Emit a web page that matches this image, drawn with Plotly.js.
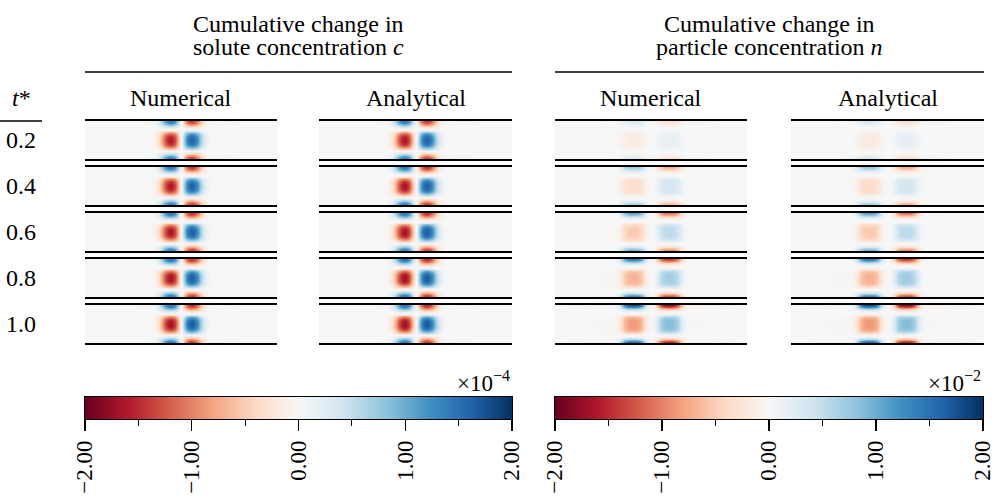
<!DOCTYPE html>
<html>
<head>
<meta charset="utf-8">
<script src="https://cdn.plot.ly/plotly-3.0.1.min.js"></script>
<style>html,body{margin:0;padding:0;background:#fff;}</style>
</head>
<body>
<div id="chart" style="width:993px;height:501px"></div>
<script>
// Non-dimensional times down the rows, methods across the columns
const times = ['0.2', '0.4', '0.6', '0.8', '1.0'];
const methods = ['Numerical', 'Analytical'];

// Streamwise sample positions (offset from channel centre) and wall-normal positions (0 = lower wall)
const xSolute = [-96, -30, -26, -22, -19, -16, -13, -11, -9, -6, -3, 0, 3, 6, 9, 11, 13, 16, 19, 22, 26, 30, 96];
const xParticle = [-96, -36, -32, -29, -26, -22, -18, -14, -10, -7, -4, 0, 4, 7, 10, 14, 18, 22, 26, 29, 32, 36, 96];
const yWall = [0, 0.05, 0.1, 0.15, 0.2, 0.25, 0.3, 0.35, 0.4, 0.45, 0.5, 0.55, 0.6, 0.65, 0.7, 0.75, 0.8, 0.85, 0.9, 0.95, 1];

// Shape of the solute change c
const soluteShapeX = [0, 0.01, 0.07, 0.25, 0.5, 0.78, 0.95, 1.0, 0.98, 0.82, 0.45, 0, -0.45, -0.82, -0.98, -1.0, -0.95, -0.78, -0.5, -0.25, -0.07, -0.01, 0];
const soluteShapeY = [0.9, 0.78, 0.5, 0.22, 0.02, -0.22, -0.5, -0.75, -0.92, -0.99, -1.0, -0.99, -0.92, -0.75, -0.5, -0.22, 0.02, 0.22, 0.5, 0.78, 0.9];

// Shape of the particle change n
const particleShapeX = [0, 0.04, 0.2, 0.5, 0.8, 0.97, 1.0, 0.97, 0.8, 0.45, 0.15, 0, -0.15, -0.45, -0.8, -0.97, -1.0, -0.97, -0.8, -0.5, -0.2, -0.04, 0];
const particleShapeY = [1.0, 0.72, 0.32, 0.08, -0.02, -0.12, -0.3, -0.42, -0.47, -0.48, -0.48, -0.48, -0.47, -0.42, -0.3, -0.12, -0.02, 0.08, 0.32, 0.72, 1.0];

// Peak amplitudes at each time (c in units of 1e-4, n in units of 1e-2)
const soluteNumerical = [1.60, 1.62, 1.64, 1.66, 1.68];
const soluteAnalytical = [1.62, 1.64, 1.66, 1.68, 1.70];
const particleNumerical = [0.35, 0.75, 1.10, 1.45, 1.80];
const particleAnalytical = [0.38, 0.78, 1.13, 1.48, 1.83];

// Colour bar scale
const barValues = [-2, 2];
const barTicks = [-2, -1, 0, 1, 2];
const barTickText = ['\u22122.00', '\u22121.00', '0.00', '1.00', '2.00'];
const barMinorTicks = [-1.5, -0.5, 0.5, 1.5];

const RdBu = [
  [0.0, '#67001f'], [0.1, '#b2182b'], [0.2, '#d6604d'], [0.3, '#f4a582'],
  [0.4, '#fddbc7'], [0.5, '#f7f7f7'], [0.6, '#d1e5f0'], [0.7, '#92c5de'],
  [0.8, '#4393c3'], [0.9, '#2166ac'], [1.0, '#053061']
];

const W = 993, H = 501;
const FONT = 'Liberation Serif, Times New Roman, serif';
const TEXT_SIZE = 24;
const colPx = [[85, 277], [319, 512], [555, 747], [791, 984]];
const rowPx = [[121, 159], [167, 205], [213, 251], [259, 297], [305, 343]];
const barRowPx = [397, 419];
const barColPx = [[85, 512], [555, 983]];

const px2x = p => p / W;
const px2y = p => 1 - p / H;

function field(amp, sx, sy) {
  return sy.map(vy => sx.map(vx => amp * vx * vy));
}

const data = [];
const layout = {
  width: W, height: H,
  margin: {l: 0, r: 0, t: 0, b: 0},
  paper_bgcolor: '#fff', plot_bgcolor: '#fff',
  showlegend: false,
  font: {family: FONT, size: TEXT_SIZE, color: '#000'},
  annotations: [], shapes: []
};

let k = 0;
const panels = [
  {x: xSolute, sx: soluteShapeX, sy: soluteShapeY, amps: soluteNumerical},
  {x: xSolute, sx: soluteShapeX, sy: soluteShapeY, amps: soluteAnalytical},
  {x: xParticle, sx: particleShapeX, sy: particleShapeY, amps: particleNumerical},
  {x: xParticle, sx: particleShapeX, sy: particleShapeY, amps: particleAnalytical}
];

panels.forEach((p, c) => {
  times.forEach((t, r) => {
    k += 1;
    const xa = k === 1 ? 'x' : 'x' + k;
    const ya = k === 1 ? 'y' : 'y' + k;
    data.push({
      type: 'heatmap', x: p.x, y: yWall, z: field(p.amps[r], p.sx, p.sy),
      zmin: -2, zmax: 2, colorscale: RdBu, zsmooth: 'best', showscale: false,
      hoverinfo: 'skip', xaxis: xa, yaxis: ya
    });
    layout['xaxis' + (k === 1 ? '' : k)] = {
      domain: [px2x(colPx[c][0]), px2x(colPx[c][1])], range: [-96, 96],
      showgrid: false, zeroline: false, showticklabels: false, ticks: '',
      showline: true, mirror: true, linecolor: '#000', linewidth: 1.6,
      anchor: ya, fixedrange: true
    };
    layout['yaxis' + (k === 1 ? '' : k)] = {
      domain: [px2y(rowPx[r][1]), px2y(rowPx[r][0])], range: [0, 1],
      showgrid: false, zeroline: false, showticklabels: false, ticks: '',
      showline: false, anchor: xa, fixedrange: true
    };
  });
});

// Horizontal colour bars drawn as thin heatmaps with their own axes
const exps = ['\u00d710<sup>\u22124</sup>', '\u00d710<sup>\u22122</sup>'];
barColPx.forEach((bc, i) => {
  k += 1;
  const xa = 'x' + k, ya = 'y' + k;
  data.push({
    type: 'heatmap', x: barValues, y: [0, 1], z: [barValues, barValues],
    zmin: -2, zmax: 2, colorscale: RdBu, zsmooth: 'best', showscale: false,
    hoverinfo: 'skip', xaxis: xa, yaxis: ya
  });
  layout['xaxis' + k] = {
    domain: [px2x(bc[0]), px2x(bc[1])], range: [-2, 2],
    showgrid: false, zeroline: false,
    tickvals: barTicks, ticktext: barTickText, tickangle: -90,
    ticks: 'outside', ticklen: 11, tickwidth: 1.4, tickcolor: '#000',
    minor: {tickvals: barMinorTicks, ticks: 'outside', ticklen: 6, tickwidth: 1.2, tickcolor: '#000'},
    tickfont: {family: FONT, size: 23, color: '#000'},
    ticklabeloverflow: 'allow',
    showline: true, mirror: true, linecolor: '#000', linewidth: 1.4,
    anchor: ya, fixedrange: true
  };
  layout['yaxis' + k] = {
    domain: [px2y(barRowPx[1]), px2y(barRowPx[0])], range: [0, 1],
    showgrid: false, zeroline: false, showticklabels: false, ticks: '',
    showline: true, mirror: true, linecolor: '#000', linewidth: 1.4,
    anchor: xa, fixedrange: true
  };
  layout.annotations.push({
    xref: 'paper', yref: 'paper', x: px2x(bc[1]), y: px2y(398),
    xanchor: 'right', yanchor: 'bottom', showarrow: false,
    text: exps[i], font: {family: FONT, size: 23}
  });
});

// Group headings with rules beneath
const headings = [
  ['Cumulative change in', 'solute concentration <i>c</i>'],
  ['Cumulative change in', 'particle concentration <i>n</i>']
];
headings.forEach((h, i) => {
  const left = colPx[2 * i][0], right = colPx[2 * i + 1][1];
  const mid = px2x((left + right) / 2);
  layout.annotations.push({xref: 'paper', yref: 'paper', x: mid, y: px2y(24), xanchor: 'center', yanchor: 'middle', showarrow: false, text: h[0]});
  layout.annotations.push({xref: 'paper', yref: 'paper', x: mid, y: px2y(47), xanchor: 'center', yanchor: 'middle', showarrow: false, text: h[1]});
  layout.shapes.push({type: 'line', xref: 'paper', yref: 'paper', x0: px2x(left), x1: px2x(right), y0: px2y(72), y1: px2y(72), line: {color: '#000', width: 1.6}});
});

// Method labels above each column
colPx.forEach((cp, c) => {
  layout.annotations.push({
    xref: 'paper', yref: 'paper', x: px2x((cp[0] + cp[1]) / 2), y: px2y(98),
    xanchor: 'center', yanchor: 'middle', showarrow: false, text: methods[c % 2]
  });
});

// Time labels
layout.annotations.push({xref: 'paper', yref: 'paper', x: px2x(21), y: px2y(98), xanchor: 'center', yanchor: 'middle', showarrow: false, text: '<i>t</i>*'});
layout.shapes.push({type: 'line', xref: 'paper', yref: 'paper', x0: 0, x1: px2x(42), y0: px2y(121), y1: px2y(121), line: {color: '#000', width: 1.6}});
times.forEach((t, r) => {
  layout.annotations.push({
    xref: 'paper', yref: 'paper', x: px2x(21), y: px2y((rowPx[r][0] + rowPx[r][1]) / 2),
    xanchor: 'center', yanchor: 'middle', showarrow: false, text: t
  });
});

Plotly.newPlot('chart', data, layout, {staticPlot: true, displayModeBar: false});
</script>
</body>
</html>
